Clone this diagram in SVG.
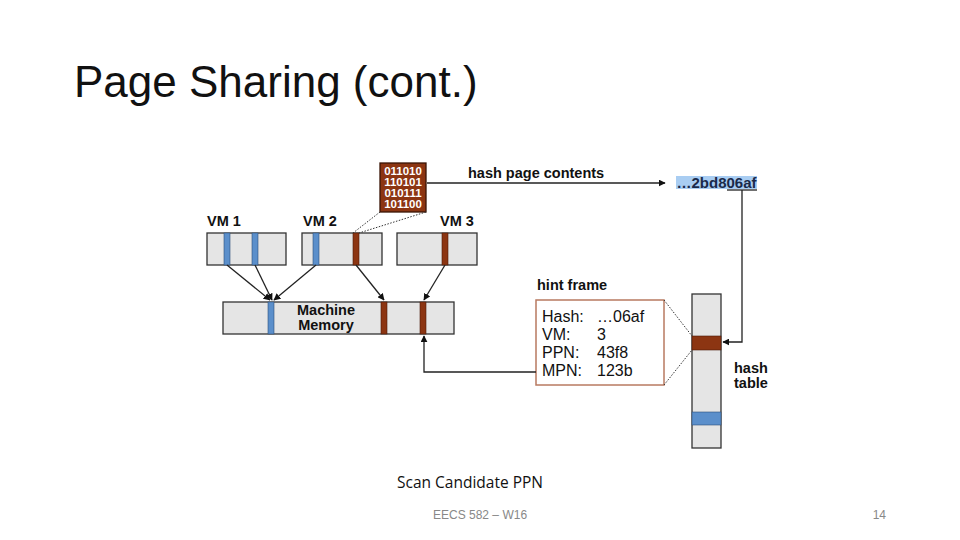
<svg xmlns="http://www.w3.org/2000/svg" width="960" height="540" viewBox="0 0 960 540">
<defs>
<style>
.box{fill:#e5e5e5;stroke:#333;stroke-width:1.3}
.blue{fill:#5b8fcb;stroke:#2d4f7a;stroke-width:0.6}
.brown{fill:#8c3512;stroke:#4a1a08;stroke-width:0.6}
.lbl{font-family:"Liberation Sans",Arial,sans-serif;font-weight:bold;font-size:14.5px;fill:#111}
.conn{fill:none;stroke:#222;stroke-width:1.3}
.dot{fill:none;stroke:#333;stroke-width:1;stroke-dasharray:1.5 1.5}
.hint{font-family:"Liberation Sans",Arial,sans-serif;font-size:16px;fill:#111}
</style>
<marker id="arr" viewBox="0 0 10 10" refX="9" refY="5" markerWidth="7" markerHeight="7" orient="auto-start-reverse" markerUnits="userSpaceOnUse">
<path d="M0,0 L10,5 L0,10 z" fill="#111"/>
</marker>
</defs>
<rect width="960" height="540" fill="#fff"/>
<text x="74" y="97" font-family="Liberation Sans,Arial,sans-serif" font-size="44" fill="#111">Page Sharing (cont.)</text>

<g id="vm1">
<text class="lbl" x="207" y="226">VM 1</text>
<rect class="box" x="207" y="233" width="79" height="32"/>
<rect class="blue" x="224" y="233" width="6" height="32"/>
<rect class="blue" x="252" y="233" width="6" height="32"/>
</g>
<g id="vm2">
<text class="lbl" x="303" y="226">VM 2</text>
<rect class="box" x="302" y="233" width="80" height="32"/>
<rect class="blue" x="313" y="233" width="6" height="32"/>
<rect class="brown" x="353" y="233" width="6" height="32"/>
</g>
<g id="vm3">
<text class="lbl" x="440" y="226">VM 3</text>
<rect class="box" x="397" y="233" width="80" height="32"/>
<rect class="brown" x="442" y="233" width="6" height="32"/>
</g>
<g id="machine-memory">
<rect class="box" x="223" y="302" width="231" height="32"/>
<rect class="blue" x="268" y="302" width="6" height="32"/>
<rect class="brown" x="381" y="302" width="6" height="32"/>
<rect class="brown" x="420" y="302" width="6" height="32"/>
<text class="lbl" x="326" y="315" text-anchor="middle">Machine</text>
<text class="lbl" x="326" y="330" text-anchor="middle">Memory</text>
</g>
<g id="page-bits">
<rect x="380" y="163" width="46" height="49" fill="#8c3512" stroke="#3a1406" stroke-width="1.3"/>
<g font-family="Liberation Sans,Arial,sans-serif" font-weight="bold" font-size="11.5" fill="#fff" text-anchor="middle">
<text x="403" y="175">011010</text>
<text x="403" y="186">110101</text>
<text x="403" y="197">010111</text>
<text x="403" y="208">101100</text>
</g>
</g>
<g id="hash-value">
<rect x="676" y="176" width="81" height="13" fill="#a9cdf2"/>
<text x="716.5" y="187.5" text-anchor="middle" font-family="Liberation Sans,Arial,sans-serif" font-weight="bold" font-size="15" fill="#1a2a4a">…2bd806af</text>
<line x1="727" y1="190" x2="757" y2="190" stroke="#222" stroke-width="1.3"/>
</g>
<g id="hint-frame">
<text class="lbl" x="537" y="290">hint frame</text>
<rect x="536" y="300" width="128" height="85" fill="#fff" stroke="#b87a60" stroke-width="1.5"/>
<text class="hint" x="542" y="322">Hash:</text><text class="hint" x="597" y="322">…06af</text>
<text class="hint" x="542" y="340">VM:</text><text class="hint" x="597" y="340">3</text>
<text class="hint" x="542" y="358">PPN:</text><text class="hint" x="597" y="358">43f8</text>
<text class="hint" x="542" y="376">MPN:</text><text class="hint" x="597" y="376">123b</text>
</g>
<g id="hash-table">
<rect class="box" x="692" y="294" width="29" height="154"/>
<rect class="brown" x="692" y="336" width="29" height="14"/>
<rect class="blue" x="692" y="412" width="29" height="13"/>
<text class="lbl" x="734" y="373">hash</text>
<text class="lbl" x="734" y="388">table</text>
</g>

<g id="connectors">
<line class="conn" x1="227" y1="265" x2="270" y2="300" marker-end="url(#arr)"/>
<line class="conn" x1="255" y1="265" x2="272" y2="300" marker-end="url(#arr)"/>
<line class="conn" x1="316" y1="265" x2="274" y2="300" marker-end="url(#arr)"/>
<line class="conn" x1="356" y1="265" x2="384" y2="300" marker-end="url(#arr)"/>
<line class="conn" x1="445" y1="265" x2="424" y2="300" marker-end="url(#arr)"/>
<line class="dot" x1="380" y1="212" x2="353" y2="233"/>
<line class="dot" x1="426" y1="212" x2="359" y2="233"/>
<line class="conn" x1="427" y1="183" x2="665" y2="183" marker-end="url(#arr)"/>
<text class="lbl" x="468" y="178">hash page contents</text>
<polyline class="conn" points="742,190 742,342 723,342" marker-end="url(#arr)"/>
<line class="dot" x1="664" y1="300" x2="692" y2="336"/>
<line class="dot" x1="664" y1="385" x2="692" y2="350"/>
<polyline class="conn" points="536,372 424,372 424,336" marker-end="url(#arr)"/>
</g>

<text x="397" y="488" font-family="Open Sans,Liberation Sans,sans-serif" font-size="15.5" fill="#111">Scan Candidate PPN</text>
<text x="433" y="519" font-family="Liberation Sans,Arial,sans-serif" font-size="12" fill="#888">EECS 582 – W16</text>
<text x="886" y="519" text-anchor="end" font-family="Liberation Sans,Arial,sans-serif" font-size="12" fill="#888">14</text>
</svg>
